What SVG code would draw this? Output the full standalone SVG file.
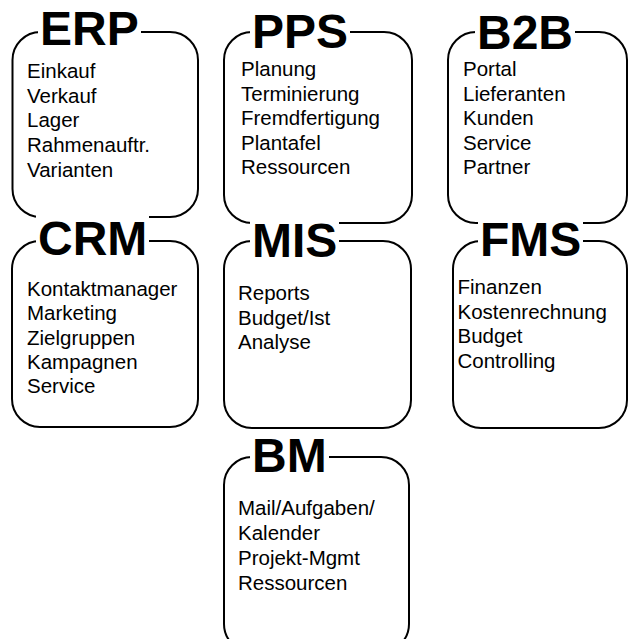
<svg xmlns="http://www.w3.org/2000/svg" width="628" height="639" viewBox="0 0 628 639">
  <style>
    .box{fill:none;stroke:#000;stroke-width:2}
    .bg{fill:#fff}
    .title{font-family:"Liberation Sans",Arial,sans-serif;font-weight:bold;font-size:48px;fill:#000}
    .item{font-family:"Liberation Sans",Arial,sans-serif;font-size:20.5px;fill:#000}
  </style>
  <rect width="628" height="639" fill="#fff"/>

  <!-- module boxes: rounded frame, title knocked out of the top edge, item list -->
  <g id="erp">
    <rect class="box" x="12.5" y="32" width="185.5" height="185" rx="28"/>
    <rect class="bg" x="38" y="3" width="103" height="48"/>
    <text class="title" x="40" y="45">ERP</text>
    <text class="item" x="27" y="78">Einkauf</text>
    <text class="item" x="27" y="102.7">Verkauf</text>
    <text class="item" x="27" y="127.4">Lager</text>
    <text class="item" x="27" y="152.1">Rahmenauftr.</text>
    <text class="item" x="27" y="176.8">Varianten</text>
  </g>

  <g id="pps">
    <rect class="box" x="224" y="32" width="188" height="191" rx="28"/>
    <rect class="bg" x="250" y="6" width="100" height="47"/>
    <text class="title" x="252" y="48">PPS</text>
    <text class="item" x="241" y="76">Planung</text>
    <text class="item" x="241" y="100.5">Terminierung</text>
    <text class="item" x="241" y="125">Fremdfertigung</text>
    <text class="item" x="241" y="149.5">Plantafel</text>
    <text class="item" x="241" y="174">Ressourcen</text>
  </g>

  <g id="b2b">
    <rect class="box" x="448" y="32" width="179" height="191" rx="28"/>
    <rect class="bg" x="475" y="7" width="100" height="47"/>
    <text class="title" x="477" y="49">B2B</text>
    <text class="item" x="463" y="76">Portal</text>
    <text class="item" x="463" y="100.5">Lieferanten</text>
    <text class="item" x="463" y="125">Kunden</text>
    <text class="item" x="463" y="149.5">Service</text>
    <text class="item" x="463" y="174">Partner</text>
  </g>

  <g id="crm">
    <rect class="box" x="12" y="241" width="186" height="186" rx="28"/>
    <rect class="bg" x="36" y="213" width="113" height="48"/>
    <text class="title" x="38" y="255">CRM</text>
    <text class="item" x="27" y="296">Kontaktmanager</text>
    <text class="item" x="27" y="320.3">Marketing</text>
    <text class="item" x="27" y="344.6">Zielgruppen</text>
    <text class="item" x="27" y="368.9">Kampagnen</text>
    <text class="item" x="27" y="393.2">Service</text>
  </g>

  <g id="mis">
    <rect class="box" x="224" y="241" width="187" height="187" rx="28"/>
    <rect class="bg" x="250" y="215" width="89" height="48"/>
    <text class="title" x="252" y="257">MIS</text>
    <text class="item" x="238" y="300">Reports</text>
    <text class="item" x="238" y="324.5">Budget/Ist</text>
    <text class="item" x="238" y="349">Analyse</text>
  </g>

  <g id="fms">
    <rect class="box" x="453" y="241" width="174" height="187" rx="28"/>
    <rect class="bg" x="478" y="214" width="105" height="48"/>
    <text class="title" x="480" y="256">FMS</text>
    <text class="item" x="457.5" y="294">Finanzen</text>
    <text class="item" x="457.5" y="318.5">Kostenrechnung</text>
    <text class="item" x="457.5" y="343">Budget</text>
    <text class="item" x="457.5" y="367.5">Controlling</text>
  </g>

  <g id="bm">
    <rect class="box" x="224" y="457" width="185" height="195" rx="28"/>
    <rect class="bg" x="250" y="429.5" width="79" height="48"/>
    <text class="title" x="252" y="472">BM</text>
    <text class="item" x="238" y="515">Mail/Aufgaben/</text>
    <text class="item" x="238" y="540">Kalender</text>
    <text class="item" x="238" y="565">Projekt-Mgmt</text>
    <text class="item" x="238" y="590">Ressourcen</text>
  </g>

  <!-- the modules stand side by side; there are no links between them -->
  <g id="connectors"/>
</svg>
